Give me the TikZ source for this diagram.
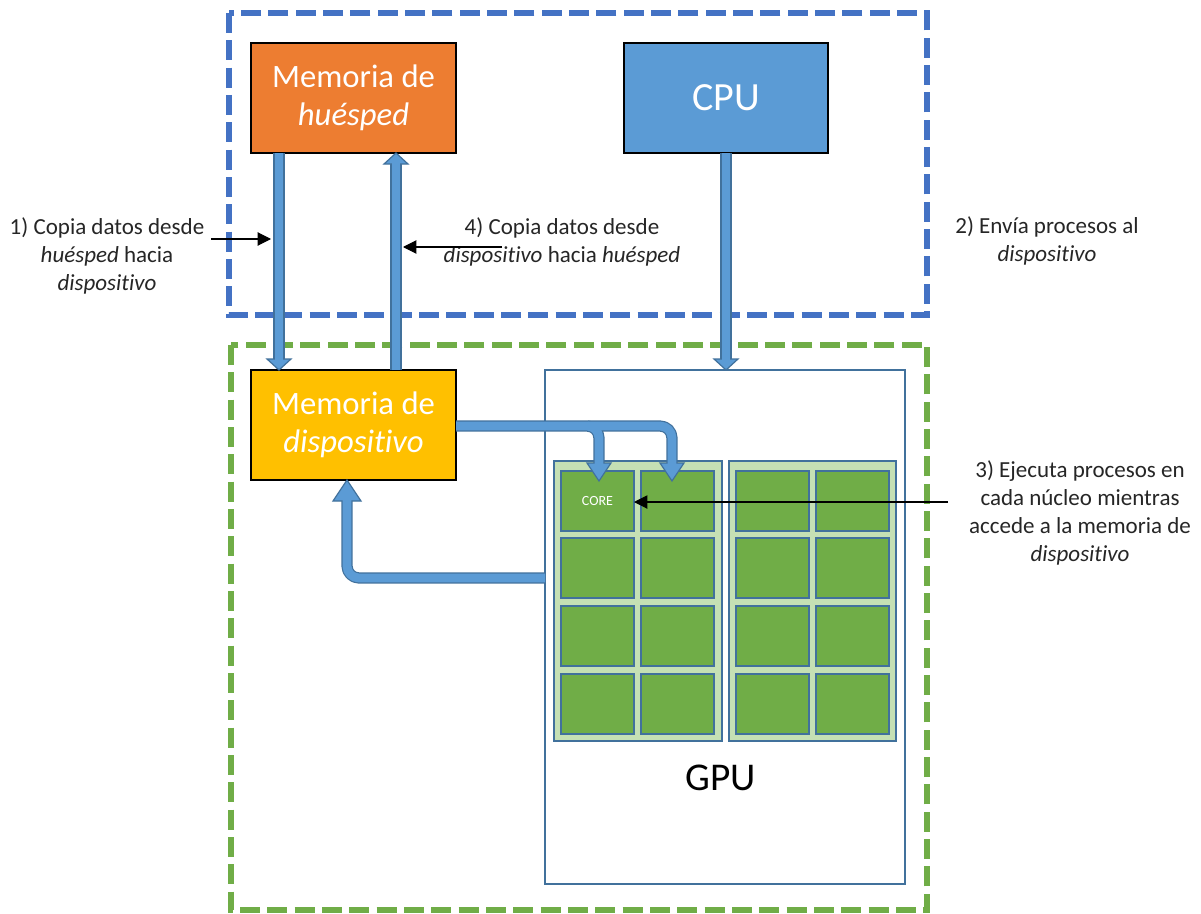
\documentclass[tikz,border=0pt]{standalone}
\usepackage{fontspec}
\setmainfont{Carlito}[Ligatures=NoCommon]
\usetikzlibrary{arrows.meta,calc}
\definecolor{dashblue}{HTML}{4472C4}
\definecolor{dashgreen}{HTML}{70AD47}
\definecolor{hostorange}{HTML}{ED7D31}
\definecolor{cpublue}{HTML}{5B9BD5}
\definecolor{devyellow}{HTML}{FFC000}
\definecolor{edgeblue}{HTML}{41719C}
\definecolor{lightgreen}{HTML}{C5E0B4}
\definecolor{coregreen}{HTML}{70AD47}
\definecolor{txt}{HTML}{262626}
\tikzset{
  frameblue/.style={draw=dashblue, line width=3.9pt, dash pattern=on 15pt off 5.5pt},
  framegreen/.style={draw=dashgreen, line width=3.9pt, dash pattern=on 15pt off 5.5pt},
  membox/.style={draw=black, line width=1.6pt, inner sep=0pt, outer sep=0pt, align=center,
     text=white, font=\fontsize{24.5}{28.5}\selectfont},
  gpubox/.style={draw=edgeblue, line width=1.1pt, inner sep=0pt, outer sep=0pt,
     minimum width={360*0.75pt}, minimum height={514*0.75pt}},
  blockbox/.style={draw=edgeblue, fill=lightgreen, line width=1.1pt, inner sep=0pt, outer sep=0pt,
     minimum height={280*0.75pt}},
  corebox/.style={draw=edgeblue, fill=coregreen, line width=1.5pt, inner sep=0pt, outer sep=0pt,
     minimum width={73*0.75pt}, minimum height={60*0.75pt}, text=white,
     font=\fontsize{10.5}{12}\selectfont},
  lbl/.style={align=center, text=txt, inner sep=0pt, font=\fontsize{17.25}{21}\selectfont},
  thinarr/.style={draw=black, line width=0.8pt, -{Triangle[length=10pt,width=10pt]}},
  fatout/.style={draw=edgeblue, line width=8.4pt, line join=round},
  fatin/.style={draw=cpublue, line width=6.6pt, line join=round},
  fatheadS/.pic={\filldraw[fill=cpublue, draw=edgeblue, line width=0.9pt, line join=miter]
     (0,0) -- (-12,-11) -- (12,-11) -- cycle;},
  fatheadL/.pic={\filldraw[fill=cpublue, draw=edgeblue, line width=0.9pt, line join=miter]
     (0,0) -- (-12,-18) -- (12,-18) -- cycle;},
  fatheadF/.pic={\filldraw[fill=cpublue, draw=edgeblue, line width=0.9pt, line join=miter]
     (0,0) -- (-14,-21) -- (14,-21) -- cycle;},
}
\begin{document}
\begin{tikzpicture}[x=0.75pt,y=-0.75pt]
\useasboundingbox[fill=white] (0,0) rectangle (1201,913);

% frames
\draw[frameblue] (229,13) rectangle (927,315);
\draw[framegreen] (231,345) rectangle (927,910);

% main boxes
\node[membox, fill=hostorange, minimum width={205*0.75pt}, minimum height={110*0.75pt}] (host) at (353.5,98) {Memoria de\\\textit{huésped}};
\node[membox, fill=cpublue, minimum width={204*0.75pt}, minimum height={110*0.75pt}, font=\fontsize{30}{34}\selectfont] (cpu) at (726,98) {CPU};
\node[membox, fill=devyellow, minimum width={205*0.75pt}, minimum height={110*0.75pt}] (dev) at (353.5,425) {Memoria de\\\textit{dispositivo}};
\node[gpubox] (gpu) at (725,627) {};
\node[text=black, inner sep=0pt, font=\fontsize{29.5}{34}\selectfont] (gputxt) at (721,778) {GPU};

% core blocks
\node[blockbox, minimum width={168*0.75pt}] (blockL) at (638,601) {};
\node[blockbox, minimum width={167*0.75pt}] (blockR) at (812.5,601) {};
\foreach \c/\x in {1/597.5,2/677.5,3/772.5,4/852}{
  \foreach \r/\y in {1/501,2/568,3/636,4/704}{
    \node[corebox] (core\r\c) at (\x,\y) {};
  }
}
\node[text=white, inner sep=0pt, font=\fontsize{10.5}{12}\selectfont] (coretxt) at (core11.center) {CORE};

% coordinates for fat arrows
\coordinate (s1) at ($(host.south west)+(28,0)$);
\coordinate (t1) at ($(dev.north west)+(28,0)$);
\coordinate (s4) at ($(dev.north west)+(145,0)$);
\coordinate (t4) at ($(host.south west)+(145,0)$);
\coordinate (sc) at (cpu.south);
\coordinate (tc) at (cpu.south |- gpu.north);
\coordinate (ja) at (599,426);
\coordinate (jb) at (672,426);
\coordinate (jb0) at (588,426);
\coordinate (ta) at (599,481);
\coordinate (tb) at (672,481);
\coordinate (sf) at (gpu.west |- 0,578);
\coordinate (jf) at (347,578);
\coordinate (tf) at ($(dev.south west)+(96,0)$);

% outer (dark) shafts
\draw[fatout] (s1) -- ($(t1)+(0,-11)$);
\draw[fatout] (s4) -- ($(t4)+(0,11)$);
\draw[fatout] (sc) -- ($(tc)+(0,-11)$);
\draw[fatout, rounded corners=9pt] (dev.east |- ja) -- (ja) -- ($(ta)+(0,-18)$);
\draw[fatout, rounded corners=9pt] (jb0) -- (jb) -- ($(tb)+(0,-18)$);
\draw[fatout, rounded corners=9pt] (sf) -- (jf) -- ($(tf)+(0,21)$);
% heads
\pic at (t1) {fatheadS};
\pic[rotate=180] at (t4) {fatheadS};
\pic at (tc) {fatheadS};
\pic at (ta) {fatheadL};
\pic at (tb) {fatheadL};
\pic[rotate=180] at (tf) {fatheadF};
% inner (light) shafts
\draw[fatin] (s1) -- ($(t1)+(0,-9)$);
\draw[fatin] (s4) -- ($(t4)+(0,9)$);
\draw[fatin] (sc) -- ($(tc)+(0,-9)$);
\draw[fatin, rounded corners=9pt] (dev.east |- ja) -- (ja) -- ($(ta)+(0,-15)$);
\draw[fatin, rounded corners=9pt] (jb0) -- (jb) -- ($(tb)+(0,-15)$);
\draw[fatin, rounded corners=9pt] (sf) -- (jf) -- ($(tf)+(0,18)$);

% labels
\node[lbl] (l1) at (107,256) {1) Copia datos desde\\\textit{huésped} hacia\\\textit{dispositivo}};
\node[lbl] (l4) at (562,242) {4) Copia datos desde\\\textit{dispositivo} hacia \textit{huésped}};
\node[lbl] (l2) at (1047,241) {2) Envía procesos al\\\textit{dispositivo}};
\node[lbl] (l3) at (1080,513) {3) Ejecuta procesos en\\cada núcleo mientras\\accede a la memoria de\\\textit{dispositivo}};

% thin arrows
\coordinate (a1s) at (211,239);
\coordinate (a1e) at (271,239);
\coordinate (a4s) at (502,247);
\coordinate (a4e) at (403,247);
\coordinate (a3s) at (948,502);
\draw[thinarr] (a1s) -- (a1e);
\draw[thinarr] (a4s) -- (a4e);
\draw[thinarr] (a3s) -- (core11.east |- a3s);
\end{tikzpicture}
\end{document}
